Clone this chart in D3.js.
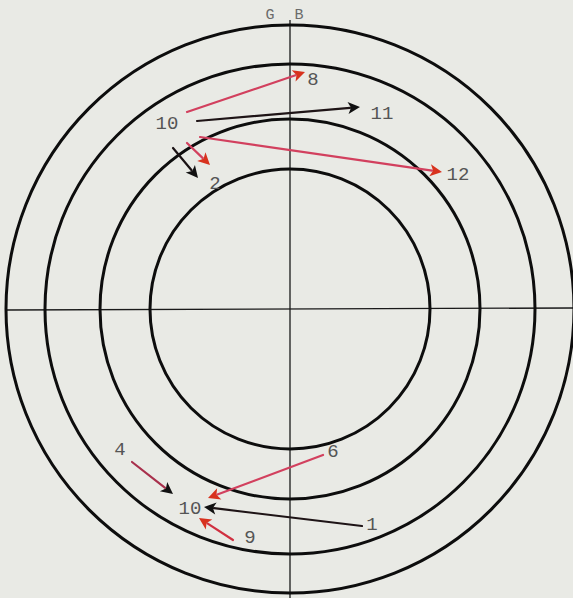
<!DOCTYPE html>
<html>
<head>
<meta charset="utf-8">
<script src="https://cdn.jsdelivr.net/npm/d3@7"></script>
<style>
  html, body { margin: 0; padding: 0; background: #e9eae5; }
  svg { display: block; }
  text { font-family: "Liberation Mono", "DejaVu Sans Mono", monospace; }
</style>
</head>
<body>
<svg id="chart" width="573" height="598"></svg>
<script>
// ---- data (units: offset from centre, y up) ----
const ringRadii = [140, 190, 245, 284];
const axisLabels = ["G", "B"];

// arrows: start point, end point, line colour, head colour
const arrowX0 = [-103, -93, -90, -103, -117, -158,  33,   72,  -57];
const arrowY0 = [ 197, 188, 172,  166,  161, -153, -146, -217, -231];
const arrowX1 = [  15,  70, 152,  -80,  -92, -117, -82,  -86,  -91];
const arrowY1 = [ 237, 202, 137,  144,  131, -185, -189, -198, -209];
const arrowLine = ["#d2405e", "#1e1416", "#d2405e", "#d2405e", "#1a1214", "#a8304c", "#d2405e", "#1e1416", "#d03040"];
const arrowHead = ["#d8321e", "#111111", "#d8321e", "#d8321e", "#111111", "#111111", "#d8321e", "#111111", "#d8321e"];

// number labels
const labelText = ["8", "10", "11", "12", "2", "4", "6", "10", "1", "9"];
const labelX    = [ 23, -123,  92, 168, -75, -170,  43, -100,  82, -40];
const labelY    = [231,  187, 197, 136, 127, -139, -141, -198, -214, -227];

// ---- drawing ----
const svg = d3.select("#chart");
const x = d3.scaleLinear().domain([-290, 283]).range([0, 573]);
const y = d3.scaleLinear().domain([309, -289]).range([0, 598]);
const r = d3.scaleLinear().domain([0, 100]).range([0, 100]);

// axes cross
svg.append("line")
  .attr("x1", x(0)).attr("x2", x(0))
  .attr("y1", y(289)).attr("y2", y(-289))
  .attr("stroke", "#1a1a1a").attr("stroke-width", 1.3);
svg.append("line")
  .attr("x1", x(-283)).attr("x2", x(283))
  .attr("y1", y(-1)).attr("y2", y(1))
  .attr("stroke", "#1a1a1a").attr("stroke-width", 1.3);

// rings
svg.selectAll("circle.ring").data(ringRadii).enter().append("circle")
  .attr("class", "ring")
  .attr("cx", x(0)).attr("cy", y(0))
  .attr("r", d => r(d))
  .attr("fill", "none")
  .attr("stroke", "#0d0d0d")
  .attr("stroke-width", 3);

// G B labels
svg.selectAll("text.gb").data(axisLabels).enter().append("text")
  .attr("class", "gb")
  .attr("x", (d, i) => x(i === 0 ? -20 : 9))
  .attr("y", y(290))
  .attr("text-anchor", "middle")
  .attr("font-size", 15)
  .attr("fill", "#6a6a6a")
  .text(d => d);

// arrows
const arrows = arrowX0.map((v, i) => ({
  x0: x(v), y0: y(arrowY0[i]), x1: x(arrowX1[i]), y1: y(arrowY1[i]),
  line: arrowLine[i], head: arrowHead[i]
}));
const headLen = 12, headW = 6;
arrows.forEach(a => {
  const dx = a.x1 - a.x0, dy = a.y1 - a.y0;
  const L = Math.hypot(dx, dy);
  const ux = dx / L, uy = dy / L;
  const bx = a.x1 - ux * headLen, by = a.y1 - uy * headLen;
  svg.append("line")
    .attr("x1", a.x0).attr("y1", a.y0)
    .attr("x2", bx + ux * 2).attr("y2", by + uy * 2)
    .attr("stroke", a.line).attr("stroke-width", 2.2)
    .attr("stroke-linecap", "round");
  const pts = [
    [a.x1, a.y1],
    [bx - uy * headW, by + ux * headW],
    [a.x1 - ux * headLen * 0.75, a.y1 - uy * headLen * 0.75],
    [bx + uy * headW, by - ux * headW]
  ];
  svg.append("polygon")
    .attr("points", pts.map(p => p.join(",")).join(" "))
    .attr("fill", a.head);
});

// number labels
svg.selectAll("text.num").data(labelText).enter().append("text")
  .attr("class", "num")
  .attr("x", (d, i) => x(labelX[i]))
  .attr("y", (d, i) => y(labelY[i]))
  .attr("dy", "0.36em")
  .attr("text-anchor", "middle")
  .attr("font-size", 19)
  .attr("fill", "#555555")
  .text(d => d);
</script>
</body>
</html>
